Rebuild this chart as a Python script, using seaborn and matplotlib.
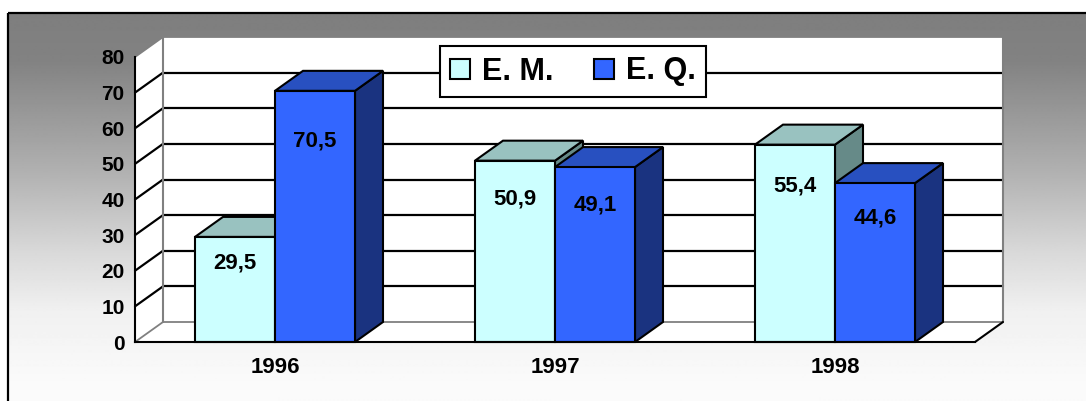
import numpy as np
import pandas as pd
import matplotlib
matplotlib.use("Agg")
import matplotlib.pyplot as plt
import seaborn as sns
from matplotlib.patches import Polygon, Rectangle

# =========================
# Dados
# =========================
anos = ["1996", "1997", "1998"]
series = ["E. M.", "E. Q."]
em_vals = [29.5, 50.9, 55.4]
eq_vals = [70.5, 49.1, 44.6]
rotulos_em = ["29,5", "50,9", "55,4"]
rotulos_eq = ["70,5", "49,1", "44,6"]
yticks = [0, 10, 20, 30, 40, 50, 60, 70, 80]

df = pd.DataFrame({
    "ano": anos * 2,
    "serie": [series[0]] * 3 + [series[1]] * 3,
    "valor": em_vals + eq_vals,
    "rotulo": rotulos_em + rotulos_eq,
})

# cores (frente, topo, lateral)
cores = {
    "E. M.": ("#CCFFFF", "#99C2C0", "#668A88"),
    "E. Q.": ("#3366FF", "#2850C0", "#1A3380"),
}

sns.set_theme(style="white")
plt.rcParams["font.family"] = ["Liberation Sans", "DejaVu Sans"]
plt.rcParams["font.weight"] = "bold"
plt.rcParams["text.color"] = "black"
plt.rcParams["xtick.color"] = "black"
plt.rcParams["ytick.color"] = "black"
plt.rcParams["xtick.labelcolor"] = "black"
plt.rcParams["ytick.labelcolor"] = "black"

W, H = 1086, 401
fig = plt.figure(figsize=(W / 100, H / 100), dpi=100)
fig.patch.set_facecolor("white")

# =========================
# Fundo em degradê
# =========================
ax_bg = fig.add_axes([0, 0, 1, 1], zorder=0)
ax_bg.set_xlim(0, W)
ax_bg.set_ylim(H, 0)
ax_bg.axis("off")
py = np.arange(13, H + 1)
g = np.interp(py, [13, 60, 170, 250, 310, 380, 401],
              [126, 130, 176, 216, 240, 250, 251]) / 255
grad = np.repeat(g[:, None], 2, axis=1)
ax_bg.imshow(grad, cmap="gray", vmin=0, vmax=1, aspect="auto",
             extent=(8, W + 5, H, 13), interpolation="bilinear")
ax_bg.add_patch(Rectangle((8, 13), W + 20, H + 20, fill=False,
                          edgecolor="black", linewidth=1.6))

# =========================
# Eixo principal (coordenadas ajustadas ao desenho)
# =========================
x0_px, y0_px, cat_px, unit_px = 135, 342, 280, 285 / 80
ax = fig.add_axes([0, 0, 1, 1], zorder=1)
ax.patch.set_alpha(0)

sns.barplot(
    data=df, x="ano", y="valor", hue="serie",
    palette=[cores[s][0] for s in series],
    saturation=1, width=160 / 280, edgecolor="black",
    linewidth=1.5, ax=ax,
)

ax.set_xlim((0 - x0_px) / cat_px - 0.5, (W - x0_px) / cat_px - 0.5)
ax.set_ylim((y0_px - H) / unit_px, y0_px / unit_px)

DX = 28 / cat_px
DY = 20 / unit_px
xl, xr = -0.5, len(anos) - 0.5

# paredes
ax.add_patch(Polygon([(xl + DX, DY), (xr + DX, DY), (xr + DX, 80 + DY),
                      (xl + DX, 80 + DY)], closed=True, facecolor="white",
                     edgecolor="none", zorder=1))
ax.add_patch(Polygon([(xl, 0), (xl + DX, DY), (xl + DX, 80 + DY), (xl, 80)],
                     closed=True, facecolor="white", edgecolor="none", zorder=1))
ax.add_patch(Polygon([(xl, 0), (xr, 0), (xr + DX, DY), (xl + DX, DY)],
                     closed=True, facecolor="white", edgecolor="none", zorder=1))

for k in yticks:
    cor = "#808080" if k in (0, 80) else "black"
    lw = 1.3 if k in (0, 80) else 1.6
    ax.plot([xl + DX, xr + DX], [k + DY, k + DY], color=cor, lw=lw, zorder=2)
    ax.plot([xl, xl + DX], [k, k + DY], color=cor, lw=lw, zorder=2)
ax.plot([xl + DX, xl + DX], [DY, 80 + DY], color="#808080", lw=1.5, zorder=2)
ax.plot([xr + DX, xr + DX], [DY, 80 + DY], color="#808080", lw=1.5, zorder=2)
ax.plot([xr, xr + DX], [0, DY], color="black", lw=1.5, zorder=2)

# =========================
# Barras em 3D
# =========================
barras = []
for cont, s in zip(ax.containers, series):
    for b in cont:
        barras.append((b, s))
barras.sort(key=lambda t: t[0].get_x())

for i, (b, s) in enumerate(barras):
    x, w, h = b.get_x(), b.get_width(), b.get_height()
    _, topo, lado = cores[s]
    z = 3 + 2 * i
    ax.add_patch(Polygon([(x + w, 0), (x + w + DX, DY), (x + w + DX, h + DY),
                          (x + w, h)], closed=True, facecolor=lado,
                         edgecolor="black", lw=1.5, zorder=z))
    ax.add_patch(Polygon([(x, h), (x + w, h), (x + w + DX, h + DY),
                          (x + DX, h + DY)], closed=True, facecolor=topo,
                         edgecolor="black", lw=1.5, zorder=z))
    b.set_zorder(z + 1)

# rótulos de dados
for cont, s in zip(ax.containers, series):
    sub = df[df["serie"] == s]
    for b, v, r in zip(cont, sub["valor"], sub["rotulo"]):
        ax.text(b.get_x() + b.get_width() / 2, 0.83 * v - 2.2, r,
                ha="center", va="center", fontsize=16, fontweight="bold",
                color="black", zorder=100)

# =========================
# Eixos
# =========================
for lado in ["top", "right"]:
    ax.spines[lado].set_visible(False)
ax.spines["left"].set_position(("data", xl))
ax.spines["left"].set_bounds(0, 80)
ax.spines["bottom"].set_position(("data", 0))
ax.spines["bottom"].set_bounds(xl, xr)
for sp in ["left", "bottom"]:
    ax.spines[sp].set_color("black")
    ax.spines[sp].set_linewidth(1.5)
    ax.spines[sp].set_zorder(50)

ax.set_yticks(yticks)
ax.set_yticklabels([str(t) for t in yticks])
ax.tick_params(axis="y", direction="out", length=3.5, width=1.4,
               color="black", labelcolor="black", pad=4, labelsize=15)
ax.tick_params(axis="x", length=0, pad=11, labelcolor="black", labelsize=16)
for t in ax.get_xticklabels() + ax.get_yticklabels():
    t.set_fontweight("bold")
ax.set_xlabel("")
ax.set_ylabel("")

# =========================
# Legenda
# =========================
handles, labels = ax.get_legend_handles_labels()
ax.get_legend().remove()
leg = ax.legend(
    handles, labels, loc="center", ncol=2,
    bbox_to_anchor=(573 / W, 1 - 71.5 / H), bbox_transform=fig.transFigure,
    frameon=True, fancybox=False, shadow=False, framealpha=1,
    prop={"size": 22, "weight": "bold"},
    handlelength=0.65, handleheight=0.65, handletextpad=0.4,
    columnspacing=1.3, borderpad=0.35,
)
leg.get_frame().set_edgecolor("black")
leg.get_frame().set_linewidth(1.5)
for t in leg.get_texts():
    t.set_color("black")
leg.set_zorder(200)

fig.savefig("out.png", dpi=100)
